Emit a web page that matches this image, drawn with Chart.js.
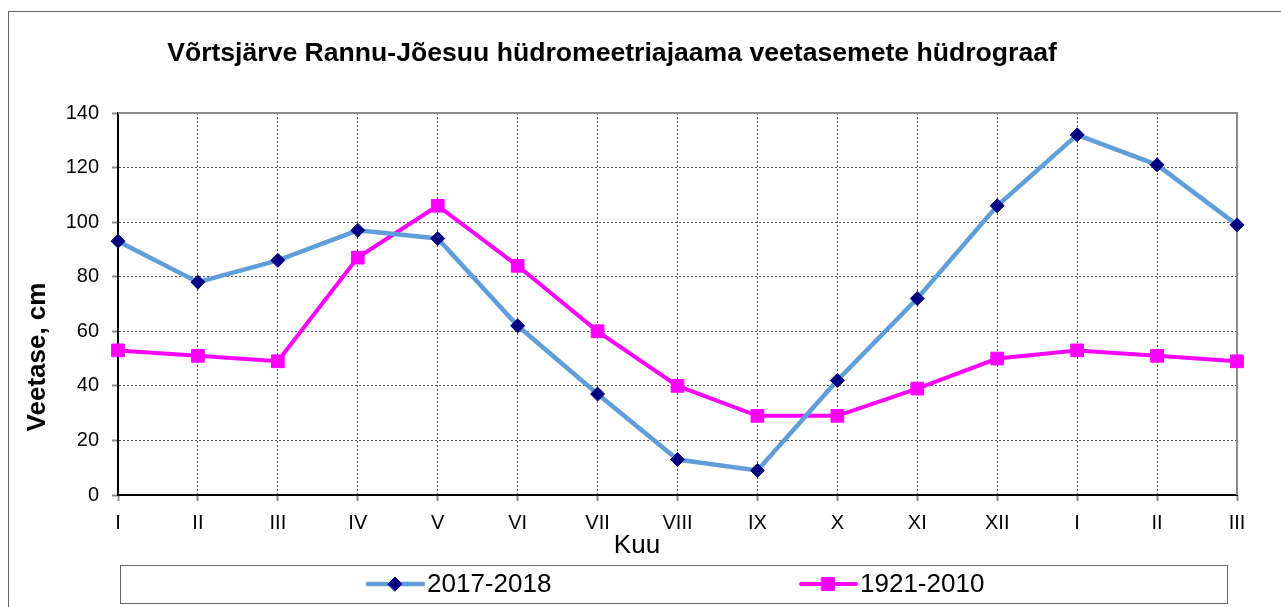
<!DOCTYPE html>
<html>
<head>
<meta charset="utf-8">
<script src="https://cdn.jsdelivr.net/npm/chart.js@4"></script>
<style>
  body { margin: 0; background: #fff; }
  #wrap { width: 1281px; height: 607px; }
</style>
</head>
<body>
<div id="wrap"><canvas id="myChart"></canvas></div>
<script>
const months = ["I", "II", "III", "IV", "V", "VI", "VII", "VIII", "IX", "X", "XI", "XII", "I", "II", "III"];
const level2017 = [93, 78, 86, 97, 94, 62, 37, 13, 9, 42, 72, 106, 132, 121, 99];
const level1921 = [53, 51, 49, 87, 106, 84, 60, 40, 29, 29, 39, 50, 53, 51, 49];
const seriesNames = ["2017-2018", "1921-2010"];
const yTicks = [0, 20, 40, 60, 80, 100, 120, 140];

const fontFam = "'Liberation Sans', Arial, sans-serif";
Chart.defaults.font.family = fontFam;
Chart.defaults.color = "#000";

// outer frame, title, plot border, axis titles and the boxed legend
const extras = {
  id: "extras",
  beforeDraw(chart) {
    const ctx = chart.ctx;
    ctx.save();
    ctx.strokeStyle = "#666";
    ctx.lineWidth = 1;
    ctx.strokeRect(8.5, 11.5, 1300, 620);
    ctx.fillStyle = "#000";
    ctx.textAlign = "center";
    ctx.textBaseline = "middle";
    ctx.font = "bold 26.6px " + fontFam;
    ctx.fillText("Võrtsjärve Rannu-Jõesuu hüdromeetriajaama veetasemete hüdrograaf", 612, 54);
    ctx.restore();
  },
  beforeDatasetsDraw(chart) {
    const ctx = chart.ctx;
    const a = chart.chartArea;
    ctx.save();
    ctx.strokeStyle = "#8c8c8c";
    ctx.lineWidth = 2;
    ctx.beginPath();
    ctx.moveTo(a.left, a.top);
    ctx.lineTo(a.right, a.top);
    ctx.lineTo(a.right, a.bottom);
    ctx.stroke();
    ctx.restore();
  },
  afterDraw(chart) {
    const ctx = chart.ctx;
    ctx.save();
    ctx.fillStyle = "#000";
    ctx.textAlign = "center";
    ctx.textBaseline = "middle";

    ctx.font = "bold 26px " + fontFam;
    ctx.save();
    ctx.translate(38, 357);
    ctx.rotate(-Math.PI / 2);
    ctx.fillText("Veetase, cm", 0, 0);
    ctx.restore();

    ctx.font = "26px " + fontFam;
    ctx.fillText("Kuu", 637, 546);

    // legend box
    ctx.strokeStyle = "#666";
    ctx.lineWidth = 1;
    ctx.strokeRect(120.5, 565.5, 1107, 38);

    const legX = [368, 801];
    const y = 584;
    ctx.textAlign = "left";
    chart.data.datasets.forEach((ds, i) => {
      const x0 = legX[i];
      ctx.strokeStyle = ds.borderColor;
      ctx.lineWidth = ds.borderWidth;
      ctx.lineCap = "round";
      ctx.beginPath();
      ctx.moveTo(x0, y);
      ctx.lineTo(x0 + 55, y);
      ctx.stroke();
      ctx.fillStyle = ds.pointBackgroundColor;
      ctx.strokeStyle = ds.pointBorderColor;
      ctx.lineWidth = ds.pointBorderWidth;
      Chart.helpers.drawPoint(ctx, {
        pointStyle: ds.pointStyle,
        radius: ds.pointRadius,
        rotation: 0,
        borderWidth: ds.pointBorderWidth
      }, x0 + 27, y);
      ctx.fillStyle = "#000";
      ctx.font = "26px " + fontFam;
      ctx.fillText(ds.label, x0 + 59, y + 1);
    });
    ctx.restore();
  }
};

new Chart("myChart", {
  type: "line",
  data: {
    labels: months,
    datasets: [
      {
        label: seriesNames[0],
        data: level2017,
        borderColor: "#5F9ED9",
        borderWidth: 4.5,
        pointStyle: "rectRot",
        pointRadius: 7,
        pointBackgroundColor: "#000080",
        pointBorderColor: "#000080",
        pointBorderWidth: 1,
        tension: 0
      },
      {
        label: seriesNames[1],
        data: level1921,
        borderColor: "#FF00FF",
        borderWidth: 4,
        pointStyle: "rect",
        pointRadius: 9,
        pointBackgroundColor: "#FF00FF",
        pointBorderColor: "#FF00FF",
        pointBorderWidth: 1,
        tension: 0
      }
    ]
  },
  options: {
    responsive: true,
    maintainAspectRatio: false,
    animation: false,
    events: [],
    layout: { padding: { left: 0, right: 44, top: 113, bottom: 62 } },
    plugins: {
      legend: { display: false },
      tooltip: { enabled: false },
      title: { display: false }
    },
    scales: {
      x: {
        offset: false,
        afterFit(scale) { scale.height = 50; },
        grid: {
          color: "#555",
          lineWidth: 1,
          tickLength: 6,
          tickColor: "#8c8c8c",
          tickWidth: 2
        },
        border: { display: true, color: "#000", width: 2, dash: [2, 2] },
        ticks: {
          font: { size: 20 },
          padding: 10,
          maxRotation: 0,
          autoSkip: false
        }
      },
      y: {
        min: yTicks[0],
        max: yTicks[yTicks.length - 1],
        afterFit(scale) { scale.width = 118; },
        grid: {
          color: "#555",
          lineWidth: 1,
          tickLength: 6,
          tickColor: "#8c8c8c",
          tickWidth: 2
        },
        border: { display: true, color: "#000", width: 2, dash: [2, 2] },
        ticks: {
          stepSize: yTicks[1] - yTicks[0],
          font: { size: 20 },
          padding: 13
        }
      }
    }
  },
  plugins: [extras]
});
</script>
</body>
</html>
